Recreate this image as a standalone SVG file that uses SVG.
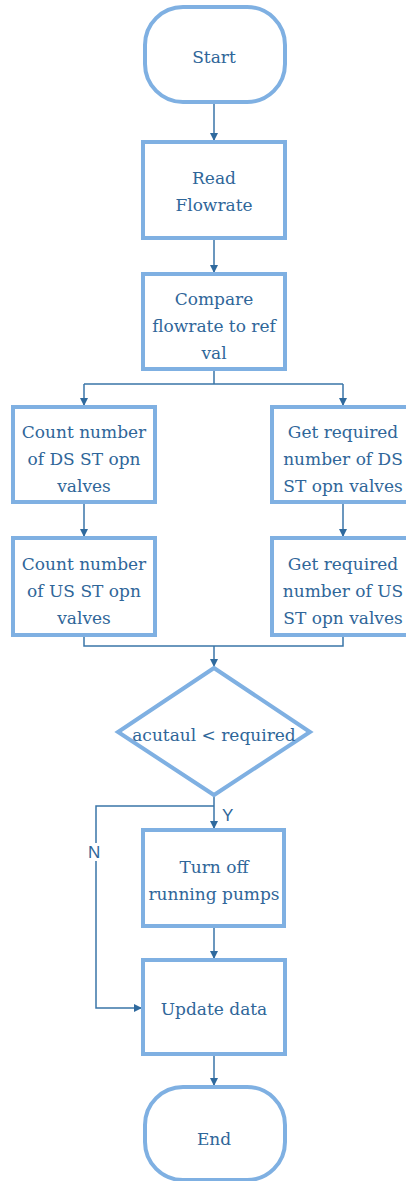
<svg xmlns="http://www.w3.org/2000/svg" width="406" height="1181" viewBox="0 0 406 1181">
<style>
.box{fill:#fff;stroke:#7FB0E2;stroke-width:4}
.t{font-family:'DejaVu Serif','Liberation Serif',serif;font-size:17px;fill:#2F6699;text-anchor:middle}
.lbl{font-family:'Liberation Sans',Arial,sans-serif;font-size:17px;fill:#2F6699}
.c{fill:none;stroke:#3A75A8;stroke-width:1.5}
</style>
<defs>
<marker id="ah" viewBox="0 0 10 10" refX="10" refY="5" markerWidth="8" markerHeight="8" markerUnits="userSpaceOnUse" orient="auto">
<path d="M0,0 L10,5 L0,10 z" fill="#2F6A9E"/>
</marker>
</defs>
<g id="connectors">
<path class="c" d="M214,102 V141" marker-end="url(#ah)"/>
<path class="c" d="M214,238 V273" marker-end="url(#ah)"/>
<path class="c" d="M214,369 V384 M84,384 H343"/>
<path class="c" d="M84,384 V406" marker-end="url(#ah)"/>
<path class="c" d="M343,384 V406" marker-end="url(#ah)"/>
<path class="c" d="M84,502 V537" marker-end="url(#ah)"/>
<path class="c" d="M343,502 V537" marker-end="url(#ah)"/>
<path class="c" d="M84,635 V646 H343 V635"/>
<path class="c" d="M214,646 V667" marker-end="url(#ah)"/>
<path class="c" d="M214,795 V829" marker-end="url(#ah)"/>
<path class="c" d="M214,806 H96 V1008 H142" marker-end="url(#ah)"/>
<path class="c" d="M214,926 V959" marker-end="url(#ah)"/>
<path class="c" d="M214,1054 V1086" marker-end="url(#ah)"/>
<text class="lbl" x="222" y="821">Y</text>
<rect x="87" y="843" width="18" height="18" fill="#fff"/>
<text class="lbl" x="88" y="858">N</text>
</g>
<g id="start">
<rect class="box" x="145" y="7" width="140" height="95" rx="38" ry="38"/>
<text class="t" x="214" y="63">Start</text>
</g>
<g id="read">
<rect class="box" x="143" y="142" width="142" height="96"/>
<text class="t" x="214" y="184">Read</text>
<text class="t" x="214" y="211">Flowrate</text>
</g>
<g id="compare">
<rect class="box" x="143" y="274" width="142" height="95"/>
<text class="t" x="214" y="305">Compare</text>
<text class="t" x="214" y="332">flowrate to ref</text>
<text class="t" x="214" y="359">val</text>
</g>
<g id="countDS">
<rect class="box" x="13" y="407" width="142" height="95"/>
<text class="t" x="84" y="438">Count number</text>
<text class="t" x="84" y="465">of DS ST opn</text>
<text class="t" x="84" y="492">valves</text>
</g>
<g id="getDS">
<rect class="box" x="272" y="407" width="142" height="95"/>
<text class="t" x="343" y="438">Get required</text>
<text class="t" x="343" y="465">number of DS</text>
<text class="t" x="343" y="492">ST opn valves</text>
</g>
<g id="countUS">
<rect class="box" x="13" y="538" width="142" height="97"/>
<text class="t" x="84" y="570">Count number</text>
<text class="t" x="84" y="597">of US ST opn</text>
<text class="t" x="84" y="624">valves</text>
</g>
<g id="getUS">
<rect class="box" x="272" y="538" width="142" height="97"/>
<text class="t" x="343" y="570">Get required</text>
<text class="t" x="343" y="597">number of US</text>
<text class="t" x="343" y="624">ST opn valves</text>
</g>
<g id="decision">
<polygon class="box" points="214,668 310,732 214,795 118,732"/>
<text class="t" x="214" y="741">acutaul &lt; required</text>
</g>
<g id="turnoff">
<rect class="box" x="143" y="830" width="141" height="96"/>
<text class="t" x="214" y="873">Turn off</text>
<text class="t" x="214" y="900">running pumps</text>
</g>
<g id="update">
<rect class="box" x="143" y="960" width="142" height="94"/>
<text class="t" x="214" y="1015">Update data</text>
</g>
<g id="end">
<rect class="box" x="145" y="1087" width="140" height="93" rx="38" ry="38"/>
<text class="t" x="214" y="1145">End</text>
</g>
</svg>
